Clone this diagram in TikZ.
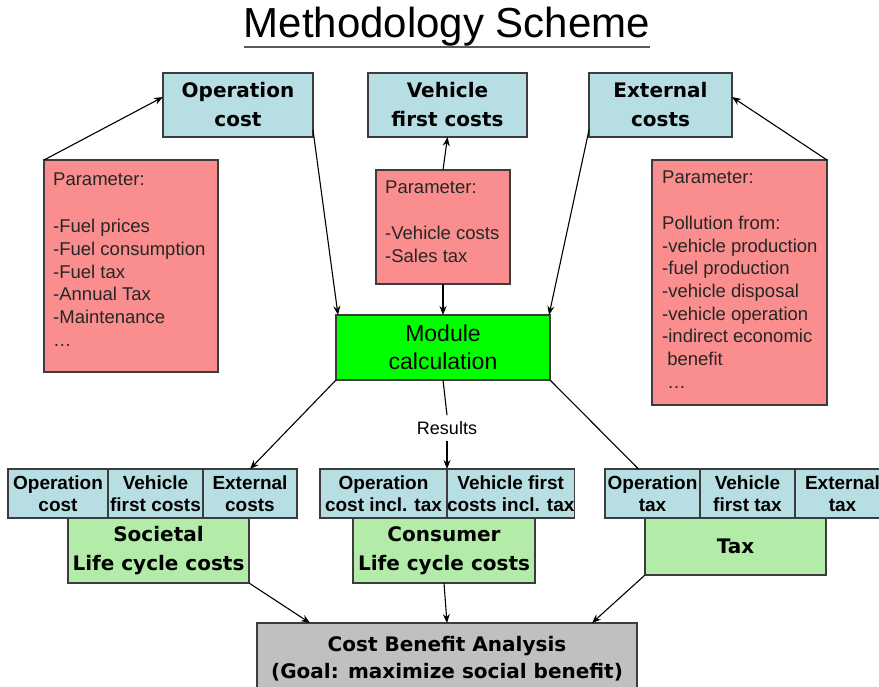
\documentclass[tikz,border=0pt]{standalone}
\usepackage{fontspec}
\setmainfont{Liberation Sans}
\newfontfamily\heavyfont{DejaVu Sans}
\usetikzlibrary{arrows.meta,calc}
\definecolor{cellblue}{RGB}{183,222,227}
\definecolor{parred}{RGB}{250,142,142}
\definecolor{lcgreen}{RGB}{178,236,168}
\definecolor{modgreen}{RGB}{0,255,0}
\definecolor{cbagray}{RGB}{192,192,192}
\definecolor{edge}{RGB}{60,60,60}
\begin{document}
\begin{tikzpicture}[x=1pt,y=-1pt,
  box/.style={draw=edge, line width=1.3pt, inner sep=0pt, outer sep=0pt, anchor=north west},
  topbox/.style={box, fill=cellblue, minimum height=64pt, align=center,
    font=\heavyfont\bfseries\fontsize{20pt}{29pt}\selectfont},
  parbox/.style={box, fill=parred},
  partext/.style={anchor=north west, inner sep=0pt, align=left,
    font=\fontsize{18.5pt}{22.7pt}\selectfont, text=black!85},
  cell/.style={box, fill=cellblue, minimum height=49pt, align=center,
    font=\bfseries\fontsize{19pt}{22pt}\selectfont},
  lcbox/.style={box, fill=lcgreen, align=center,
    font=\heavyfont\bfseries\fontsize{20pt}{29pt}\selectfont},
  arr/.style={line width=1.1pt, -{Stealth[length=9pt,width=7pt]}},
  plain/.style={line width=1.1pt}
]
\useasboundingbox (0,0) rectangle (879,687);

% title
\node[anchor=base, inner sep=0pt, font=\fontsize{42pt}{42pt}\selectfont] (title) at (447,38) {Methodology Scheme};
\draw[line width=1.6pt, black!65] ([yshift=-9pt]title.base west) -- ([yshift=-9pt]title.base east);

% cost categories
\node[topbox, minimum width=150pt] (oc) at (163,73) {Operation\\cost};
\node[topbox, minimum width=159pt] (vc) at (368,73) {Vehicle\\first costs};
\node[topbox, minimum width=143pt] (ec) at (589,73) {External\\costs};

% parameter boxes
\node[parbox, minimum width=174pt, minimum height=212pt] (pl) at (44,160) {};
\node[partext] (plt) at ($(pl.north west)+(9,13)$)
  {Parameter:\\[24pt]-Fuel prices\\-Fuel consumption\\-Fuel tax\\-Annual Tax\\-Maintenance\\…};
\node[parbox, minimum width=134pt, minimum height=114pt] (pm) at (376,170) {};
\node[partext] (pmt) at ($(pm.north west)+(9,11)$)
  {Parameter:\\[22.7pt]-Vehicle costs\\-Sales tax};
\node[parbox, minimum width=175pt, minimum height=245pt] (pr) at (652,160) {};
\node[partext] (prt) at ($(pr.north west)+(10,11)$)
  {Parameter:\\[22.7pt]Pollution from:\\-vehicle production\\-fuel production\\-vehicle disposal\\-vehicle operation\\-indirect economic\\\ benefit\\\ …};

% calculation module
\node[box, fill=modgreen, minimum width=214pt, minimum height=65pt, align=center,
  font=\fontsize{23pt}{28pt}\selectfont] (mc) at (336,315) {Module\\calculation};
\node[inner xsep=2pt, inner ysep=6pt, font=\fontsize{18pt}{20pt}\selectfont] (res) at (447,428) {Results};

% life cycle cost groups
\node[lcbox, minimum width=181pt, minimum height=65pt] (soc) at (68,518) {Societal\\Life cycle costs};
\node[lcbox, minimum width=182pt, minimum height=65pt] (cons) at (353,518) {Consumer\\Life cycle costs};
\node[lcbox, minimum width=181pt, minimum height=57pt] (tax) at (645,518) {Tax};

\node[cell, minimum width=100pt] (s1) at (8,469) {Operation\\cost};
\node[cell, minimum width=95pt] (s2) at (108,469) {Vehicle\\first costs};
\node[cell, minimum width=94pt] (s3) at (203,469) {External\\costs};
\node[cell, minimum width=127pt] (c1) at (320,469) {Operation\\cost incl. tax};
\node[cell, minimum width=127pt] (c2) at (447,469) {Vehicle first\\costs incl. tax};
\node[cell, minimum width=95pt] (t1) at (605,469) {Operation\\tax};
\node[cell, minimum width=95pt] (t2) at (700,469) {Vehicle\\first tax};
\node[cell, minimum width=95pt] (t3) at (795,469) {External\\tax};

% cost benefit analysis
\node[box, fill=cbagray, minimum width=380pt, minimum height=71pt, align=center,
  font=\heavyfont\bfseries\fontsize{20pt}{27pt}\selectfont] (cba) at (257,623)
  {Cost Benefit Analysis\\(Goal: maximize social benefit)};

% connectors
\draw[arr] (pl.north west) -- ([yshift=8pt]oc.west);
\draw[arr] (pr.north east) -- ([yshift=8pt]ec.east);
\draw[arr] (pm.north) -- (vc.south);
\draw[arr] (pm.south) -- (mc.north);
\draw[arr] ([yshift=-25pt]oc.east) -- ([xshift=2pt]mc.north west);
\draw[arr] ([yshift=-25pt]ec.west) -- ([xshift=-1pt]mc.north east);
\draw[arr] (mc.south west) -- (s3.north);
\draw[plain] (mc.south) -- (res.north);
\draw[arr] (res.south) -- (c1.north east);
\draw[plain] (mc.south east) -- ([xshift=-14pt]t1.north);
\draw[arr] (soc.south east) -- ([xshift=53pt]cba.north west);
\draw[arr] (cons.south) -- (cba.north);
\draw[arr] (tax.south west) -- ([xshift=-45pt]cba.north east);
\end{tikzpicture}
\end{document}
